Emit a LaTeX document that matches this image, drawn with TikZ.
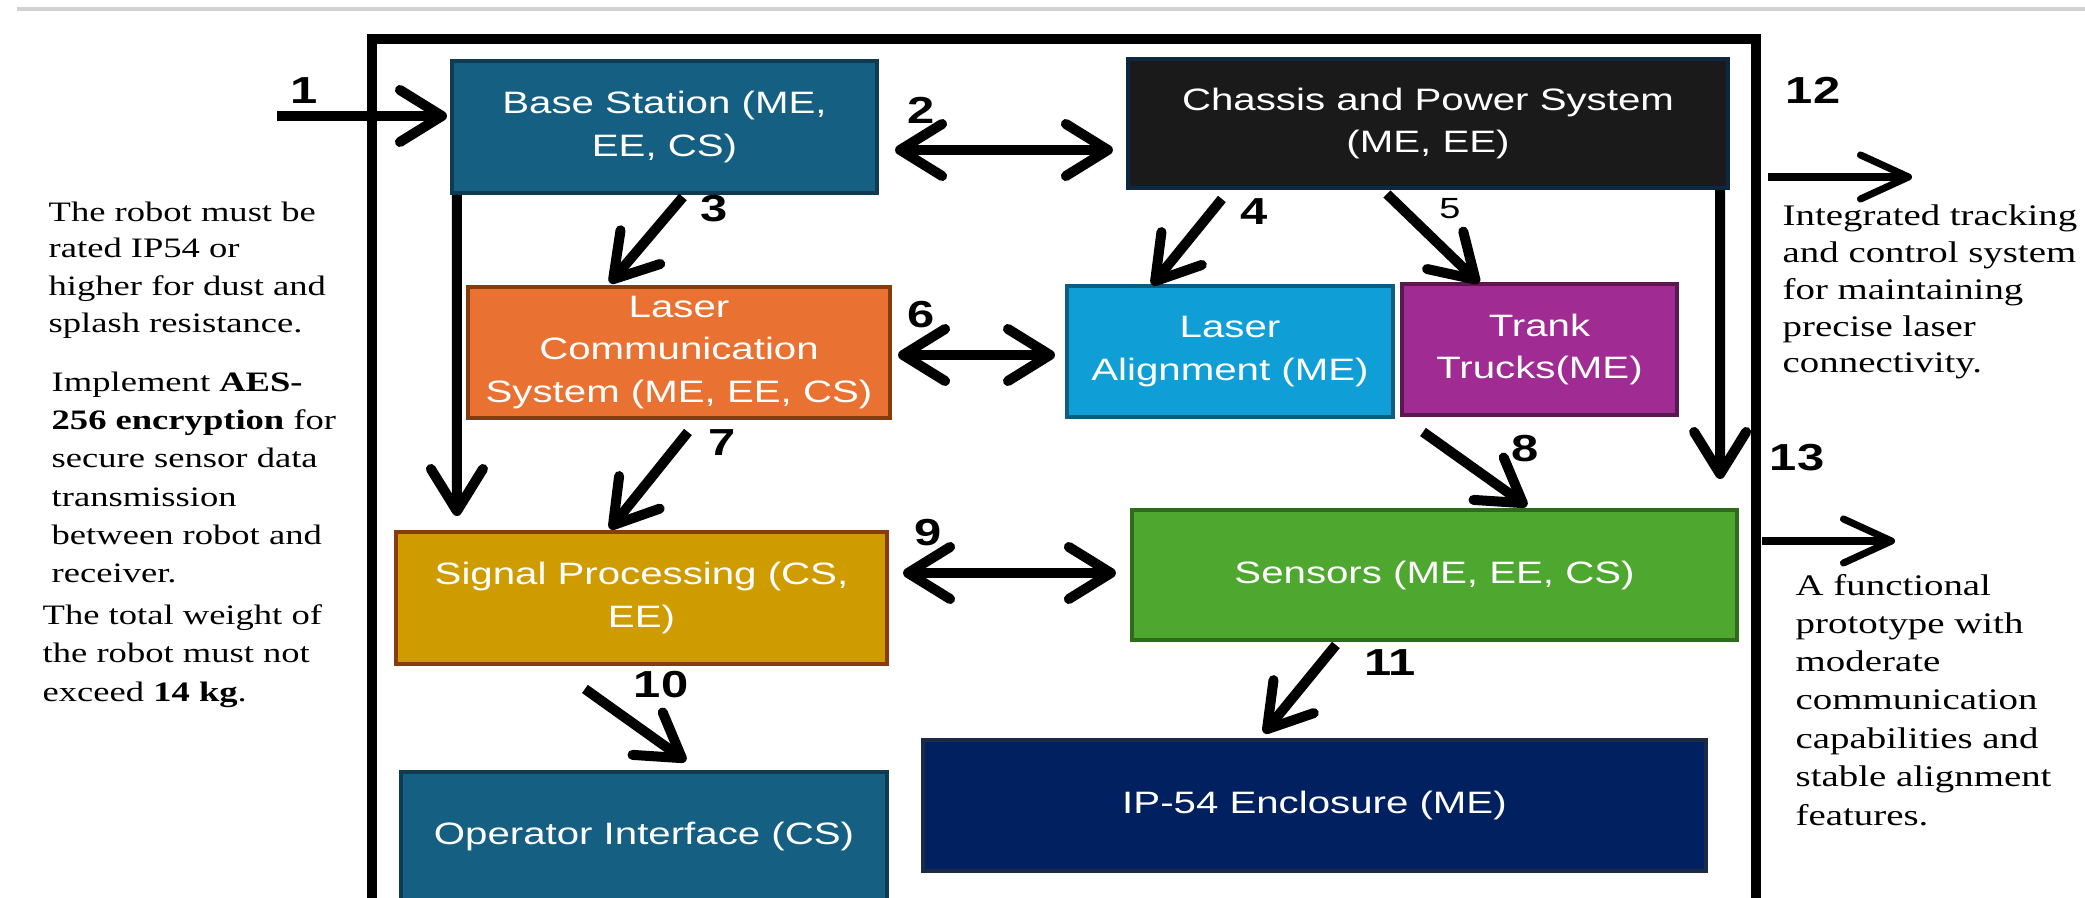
\documentclass[tikz,border=0pt]{standalone}
\usepackage{fontspec}
\setmainfont{Liberation Serif}
\newfontfamily\boxfont[FakeStretch=1.3]{Liberation Sans}
\newfontfamily\serifw[FakeStretch=1.3]{Liberation Serif}
\usetikzlibrary{arrows.meta,calc}
\definecolor{cteal}{HTML}{156082}
\definecolor{cteald}{HTML}{0E3B52}
\definecolor{cblack}{HTML}{1A1A1A}
\definecolor{cblackd}{HTML}{0E2841}
\definecolor{corange}{HTML}{E97132}
\definecolor{coranged}{HTML}{843C0C}
\definecolor{cblue}{HTML}{0F9ED5}
\definecolor{cblued}{HTML}{0D5D80}
\definecolor{cpurple}{HTML}{A02B93}
\definecolor{cpurpled}{HTML}{5A1852}
\definecolor{cgold}{HTML}{CF9C00}
\definecolor{cgoldd}{HTML}{8B3A0F}
\definecolor{cgreen}{HTML}{4EA72E}
\definecolor{cgreend}{HTML}{2E6B1B}
\definecolor{cnavy}{HTML}{002060}
\definecolor{cnavyd}{HTML}{1B2A45}
\begin{document}
\begin{tikzpicture}[x=0.01cm,y=-0.01cm,
  box/.style={draw, line width=1.1pt, text=white, align=center, inner sep=0pt,
    font=\boxfont\fontsize{8.8}{12}\selectfont},
  arr/.style={line width=2.85pt, -{Straight Barb[length=0.42cm,width=0.52cm,round]}},
  darr/.style={line width=2.85pt, {Straight Barb[length=0.42cm,width=0.52cm,round]}-{Straight Barb[length=0.42cm,width=0.52cm,round]}},
  tarr/.style={line width=2pt, -{Straight Barb[length=0.48cm,width=0.44cm,round]}},
  lbl/.style={inner sep=0pt, font=\boxfont\bfseries\fontsize{10.7}{12}\selectfont},
  lt/.style={anchor=base west, inner sep=0pt, font=\serifw\fontsize{8}{10}\selectfont},
  rt/.style={anchor=base west, inner sep=0pt, font=\serifw\fontsize{8.5}{10}\selectfont},
  frame/.style={line width=3.1pt}]
\useasboundingbox[fill=white] (0,0) rectangle (2085,898);
\clip (0,0) rectangle (2085,898);
\draw[black!18, line width=1pt] (17,9) -- (2085,9);
% outer frame (open at bottom)
\draw[frame] (372,920) -- (372,39) -- (1756,39) -- (1756,920);
% boxes
\node[box, fill=cteal, draw=cteald, minimum width=4.25cm, minimum height=1.32cm] (base) at (664.5,127) {Base Station (ME,\\EE, CS)};
\node[box, fill=cblack, draw=cblackd, minimum width=6.00cm, minimum height=1.29cm] (chassis) at (1428,123.5) {Chassis and Power System\\(ME, EE)};
\node[box, fill=corange, draw=coranged, minimum width=4.22cm, minimum height=1.31cm] (lcomm) at (679,352.5) {Laser\\Communication\\System (ME, EE, CS)};
\node[box, fill=cblue, draw=cblued, minimum width=3.26cm, minimum height=1.31cm] (lalign) at (1230,351.5) {Laser\\Alignment (ME)};
\node[box, fill=cpurple, draw=cpurpled, minimum width=2.75cm, minimum height=1.31cm] (trank) at (1539.5,349.5) {Trank\\Trucks(ME)};
\node[box, fill=cgold, draw=cgoldd, minimum width=4.91cm, minimum height=1.32cm] (signal) at (641.5,598) {Signal Processing (CS,\\EE)};
\node[box, fill=cgreen, draw=cgreend, minimum width=6.05cm, minimum height=1.30cm] (sensors) at (1434.5,575) {Sensors (ME, EE, CS)};
\node[box, fill=cteal, draw=cteald, minimum width=4.86cm, minimum height=1.30cm] (oper) at (644,837) {Operator Interface (CS)};
\node[box, fill=cnavy, draw=cnavyd, minimum width=7.83cm, minimum height=1.31cm] (ip) at (1314.5,805.5) {IP-54 Enclosure (ME)};
% connectors
\coordinate (in1) at (277,116);
\draw[arr] (in1) -- ($(base.west)+(-3,-11)$);
\draw[darr] ($(base.east)+(16,23)$) -- ($(chassis.west)+(-13,26.5)$);
\draw[arr] ($(base.south west)+(233,2)$) -- ($(lcomm.north west)+(144,-2)$);
\draw[arr] ($(chassis.south west)+(96,9)$) -- ($(lalign.north west)+(87,1)$);
\draw[arr] ($(chassis.south west)+(261,4)$) -- ($(trank.north west)+(79,1)$);
\draw[darr] ($(lcomm.east)+(6,2.5)$) -- ($(lalign.west)+(-10,3.5)$);
\draw[arr] ($(lcomm.south west)+(222,12)$) -- ($(signal.north west)+(216,-1)$);
\draw[arr] ($(trank.south west)+(23,15)$) -- ($(sensors.north west)+(397,-2)$);
\draw[darr] ($(signal.east)+(14,-25)$) -- ($(sensors.west)+(-14,-2)$);
\draw[arr] ($(signal.south west)+(191,23)$) -- ($(oper.north west)+(287,-9)$);
\draw[arr] ($(sensors.south west)+(206,3)$) -- ($(ip.north west)+(343,-5)$);
\draw[arr] ($(chassis.south east)+(-10,0)$) -- ($(sensors.north east)+(-19,-29)$);
\draw[arr] ($(base.south west)+(7,0)$) -- ($(signal.north west)+(63,-14)$);
\coordinate (o12a) at (1768,177);
\coordinate (o12b) at (1912,177);
\coordinate (o13a) at (1762,541);
\coordinate (o13b) at (1895,541);
\draw[tarr] (o12a) -- (o12b);
\draw[tarr] (o13a) -- (o13b);
% labels
\node[lbl] (l1) at (304,91) {1};
\node[lbl] (l2) at (921,110) {2};
\node[lbl] (l3) at (714,209) {3};
\node[lbl] (l4) at (1254,212) {4};
\node[inner sep=0pt, font=\boxfont\fontsize{8.3}{10}\selectfont] (l5) at (1450,209) {5};
\node[lbl] (l6) at (921,315) {6};
\node[lbl] (l7) at (722,443) {7};
\node[lbl] (l8) at (1525,449) {8};
\node[lbl] (l9) at (928,533) {9};
\node[lbl] (l10) at (661,685) {10};
\node[lbl] (l11) at (1390,663) {11};
\node[lbl] (l12) at (1813,90) {12};
\node[lbl] (l13) at (1797,458) {13};
% left notes
\node[lt] (a1) at (48,222) {The robot must be};
\node[lt] (a2) at (48,258) {rated IP54 or};
\node[lt] (a3) at (48,296) {higher for dust and};
\node[lt] (a4) at (48,333) {splash resistance.};
\node[lt] (b1) at (51,392) {Implement \textbf{AES-}};
\node[lt] (b2) at (51,430) {\textbf{256 encryption} for};
\node[lt] (b3) at (51,468) {secure sensor data};
\node[lt] (b4) at (51,507) {transmission};
\node[lt] (b5) at (51,545) {between robot and};
\node[lt] (b6) at (51,583) {receiver.};
\node[lt] (c1) at (42,625) {The total weight of};
\node[lt] (c2) at (42,663) {the robot must not};
\node[lt] (c3) at (42,702) {exceed \textbf{14 kg}.};
% right notes
\node[rt] (d1) at (1782,226) {Integrated tracking};
\node[rt] (d2) at (1782,263) {and control system};
\node[rt] (d3) at (1782,300) {for maintaining};
\node[rt] (d4) at (1782,337) {precise laser};
\node[rt] (d5) at (1782,373) {connectivity.};
\node[rt] (e1) at (1795,596) {A functional};
\node[rt] (e2) at (1795,634) {prototype with};
\node[rt] (e3) at (1795,672) {moderate};
\node[rt] (e4) at (1795,710) {communication};
\node[rt] (e5) at (1795,749) {capabilities and};
\node[rt] (e6) at (1795,787) {stable alignment};
\node[rt] (e7) at (1795,826) {features.};
\end{tikzpicture}
\end{document}
